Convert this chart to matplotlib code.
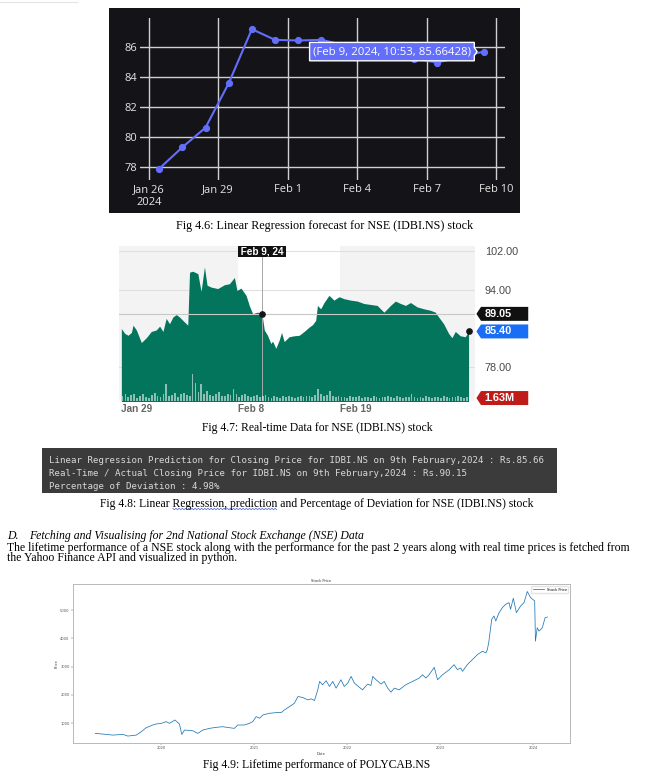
import numpy as np
import pandas as pd
import matplotlib
matplotlib.use('Agg')
import matplotlib.pyplot as plt
import matplotlib.dates as mdates
from matplotlib.patches import Rectangle, Polygon
from matplotlib.lines import Line2D
from matplotlib import transforms

W, H = 651, 779

# --- Fig 4.6: linear regression forecast (one value per day at 10:53) ---
lr_start = '2024-01-26 10:53'
lr_price = [77.91, 79.33, 80.63, 83.57, 87.15, 86.44, 86.40, 86.44,
            86.10, 85.80, 85.50, 85.20, 84.94, 85.30, 85.66428]
lr_ticks = ['2024-01-26', '2024-01-29', '2024-02-01', '2024-02-04', '2024-02-07', '2024-02-10']
lr_ticklabels = ['Jan 26\n2024', 'Jan 29', 'Feb 1', 'Feb 4', 'Feb 7', 'Feb 10']
lr_yticks = [78, 80, 82, 84, 86]
lr_hover = '(Feb 9, 2024, 10:53, 85.66428)'

# --- Fig 4.7: real-time chart, x = trading days since Jan 29 ---
rt_day = [0.02, 0.25, 0.48, 0.71, 0.82, 1.05, 1.39, 1.73, 2.07, 2.41, 2.64, 2.87,
          3.09, 3.32, 3.55, 3.78, 4.00, 4.23, 4.57, 4.69, 4.91, 5.26, 5.48, 5.71,
          5.89, 6.17, 6.62, 7.08, 7.42, 7.76, 7.94, 8.21, 8.56, 8.78, 9.01, 9.35,
          9.65, 9.81, 10.03, 10.26, 10.38, 10.60, 10.83, 10.99, 11.17, 11.51, 11.85,
          12.20, 12.54, 12.88, 13.11, 13.33, 13.45, 13.67, 13.90, 14.24, 14.58, 14.93,
          15.27, 15.72, 16.18, 16.63, 17.09, 17.54, 18.00, 18.23, 18.45, 18.79, 19.14,
          19.48, 19.82, 20.27, 20.73, 21.18, 21.52, 21.75, 22.09, 22.43, 22.66, 22.89,
          23.23, 23.57, 23.80]
rt_price = [86.0, 85.0, 84.6, 85.2, 86.7, 85.7, 83.1, 84.1, 85.4, 85.7, 86.5, 85.4,
            88.1, 87.0, 88.4, 88.9, 88.4, 87.7, 86.7, 97.7, 97.9, 97.4, 93.7, 98.8,
            95.0, 94.6, 94.3, 95.1, 95.3, 96.6, 93.9, 94.4, 92.9, 90.8, 89.1, 89.4,
            89.05, 85.7, 84.6, 82.9, 83.4, 81.9, 83.6, 85.2, 83.3, 84.3, 84.5,
            84.6, 85.4, 86.3, 86.8, 87.7, 90.8, 90.1, 91.4, 92.9, 91.9, 92.6,
            92.2, 91.9, 91.7, 91.2, 91.0, 90.8, 89.4, 90.1, 90.8, 91.7, 91.2,
            90.8, 91.4, 90.5, 90.1, 89.8, 89.4, 88.4, 87.0, 85.0, 84.1, 85.4,
            84.5, 84.3, 85.4]
# volume in thousand shares, 5 bars per trading day
rt_volume = [150, 200, 120, 180, 210, 90, 160, 220, 130, 100,
             170, 240, 140, 110, 200, 500, 160, 190, 250, 120,
             210, 230, 180, 150, 800, 550, 260, 500, 200, 300,
             180, 150, 220, 280, 160, 140, 200, 170, 350, 210,
             130, 180, 220, 150, 120, 160, 190, 110, 140, 180,
             120, 100, 150, 130, 90, 140, 110, 160, 120, 100,
             130, 150, 110, 160, 140, 120, 180, 350, 200, 150,
             170, 300, 140, 120, 160, 110, 130, 100, 150, 120,
             110, 140, 90, 130, 120, 100, 150, 110, 90, 130,
             120, 140, 110, 100, 150, 130, 90, 120, 110, 220,
             130, 100, 120, 90, 140, 110, 100, 130, 120, 90,
             140, 110, 100, 130, 120, 150, 110, 100, 130, 120]
rt_ticks = [0, 8, 15]
rt_ticklabels = ['Jan 29', 'Feb 8', 'Feb 19']
rt_yticks = [78, 94, 102]
rt_cursor_day = 9.65
rt_cursor_label = 'Feb 9, 24'
rt_cursor_price = 89.05
rt_last_volume = '1.63M'

# --- Fig 4.8: notebook output ---
code_lines = [
    'Linear Regression Prediction for Closing Price for IDBI.NS on 9th February,2024 : Rs.85.66',
    'Real-Time / Actual Closing Price for IDBI.NS on 9th February,2024 : Rs.90.15',
    'Percentage of Deviation : 4.98%',
]

# --- Fig 4.9: POLYCAB.NS lifetime closing price ---
pc_date = ['2019-04-16', '2019-05-16', '2019-06-24', '2019-08-03', '2019-08-22', '2019-09-24',
           '2019-10-14', '2019-11-02', '2019-11-28', '2019-12-11', '2020-01-01', '2020-01-20',
           '2020-02-02', '2020-02-23', '2020-03-12', '2020-03-21', '2020-04-01', '2020-05-03',
           '2020-05-23', '2020-06-12', '2020-07-08', '2020-08-03', '2020-08-29', '2020-09-24',
           '2020-10-14', '2020-10-27', '2020-11-22', '2020-12-12', '2020-12-25', '2021-01-08',
           '2021-01-21', '2021-02-03', '2021-03-01', '2021-03-28', '2021-04-16', '2021-04-29',
           '2021-05-19', '2021-06-07', '2021-06-21', '2021-07-10', '2021-07-30', '2021-08-12',
           '2021-08-25', '2021-09-07', '2021-09-14', '2021-09-26', '2021-10-10', '2021-10-23',
           '2021-11-05', '2021-11-18', '2021-12-07', '2021-12-20', '2022-01-03', '2022-01-16',
           '2022-01-29', '2022-02-18', '2022-03-02', '2022-03-22', '2022-04-04', '2022-04-11',
           '2022-04-24', '2022-05-14', '2022-05-26', '2022-06-09', '2022-06-22', '2022-07-05',
           '2022-07-24', '2022-08-19', '2022-09-15', '2022-10-11', '2022-10-24', '2022-11-06',
           '2022-11-19', '2022-12-09', '2022-12-22', '2023-01-11', '2023-02-06', '2023-02-25',
           '2023-03-10', '2023-03-23', '2023-03-30', '2023-04-18', '2023-05-08', '2023-05-28',
           '2023-06-17', '2023-06-30', '2023-07-06', '2023-07-12', '2023-07-23', '2023-08-01',
           '2023-08-08', '2023-08-21', '2023-09-03', '2023-09-16', '2023-09-29', '2023-10-05',
           '2023-10-16', '2023-10-28', '2023-11-14', '2023-11-27', '2023-12-10', '2023-12-23',
           '2024-01-08', '2024-01-11', '2024-01-18', '2024-01-25', '2024-02-07', '2024-02-18',
           '2024-02-27']
pc_price = [631, 607, 571, 595, 536, 571, 690, 833, 929, 964, 988, 1048,
            988, 1107, 964, 595, 750, 726, 631, 750, 810, 845, 869, 833,
            810, 929, 929, 988, 1048, 1226, 1167, 1286, 1345, 1369, 1369, 1464,
            1583, 1702, 1940, 1905, 1821, 1857, 1798, 2179, 2476, 2357, 2500, 2298,
            2476, 2238, 2536, 2298, 2417, 2655, 2417, 2262, 2179, 2381, 2333, 2655,
            2536, 2381, 2476, 2238, 2095, 2238, 2179, 2357, 2476, 2595, 2714, 2595,
            2714, 2976, 2536, 2714, 2893, 3071, 2893, 2952, 2833, 3071, 3250, 3429,
            3548, 3488, 3607, 3905, 4679, 4798, 4619, 4917, 5095, 5214, 5274, 5036,
            5429, 4917, 5155, 5274, 5667, 5452, 5333, 3905, 4381, 4262, 4381, 4738,
            4762]


def rect(x0, y0, x1, y1):
    """pixel box (top-left origin) -> figure fraction rect"""
    return [x0 / W, 1 - y1 / H, (x1 - x0) / W, (y1 - y0) / H]


def ftext(x, y, s, **kw):
    return fig.text(x / W, 1 - y / H, s, **kw)


def fbox(x0, y0, x1, y1, color):
    fig.add_artist(Rectangle((x0 / W, 1 - y1 / H), (x1 - x0) / W, (y1 - y0) / H,
                             transform=fig.transFigure, color=color, lw=0, zorder=-5))


serif = 'Liberation Serif'
cap_big = 8.7
cap_size = 8.4
body_size = 8.5

fig = plt.figure(figsize=(W / 100, H / 100), dpi=100)
fig.patch.set_facecolor('white')

# faint rule at the very top
fig.add_artist(Line2D([0, 77 / W], [1 - 1.7 / H] * 2, color='#e4e4e4', lw=0.8,
                      transform=fig.transFigure))

# ---------------- Fig 4.6 ----------------
dark = '#131318'
fbox(109, 8, 520, 213, dark)
ax1 = fig.add_axes(rect(139.7, 18.3, 504.7, 180))
ax1.set_facecolor(dark)
for s in ax1.spines.values():
    s.set_visible(False)
lr_dates = pd.date_range(lr_start, periods=len(lr_price), freq='D')
ax1.plot(lr_dates, lr_price, '-o', color='#636efa', lw=1.5, ms=4.2, zorder=3)
ax1.set_xlim(pd.Timestamp('2024-01-25 14:41'), pd.Timestamp('2024-02-10 08:45'))
ax1.set_ylim(77.16, 87.87)
ax1.set_xticks(pd.to_datetime(lr_ticks))
ax1.set_xticklabels(lr_ticklabels)
ax1.set_yticks(lr_yticks)
ax1.grid(True, color='#d0d0d0', lw=1.0)
ax1.set_axisbelow(True)
ax1.tick_params(length=0, colors='#e6e6e6', labelsize=8)
ax1.tick_params(axis='x', pad=3)
ax1.tick_params(axis='y', pad=1.5)
for lab in ax1.get_xticklabels() + ax1.get_yticklabels():
    lab.set_family('Open Sans')
for lab in ax1.get_xticklabels():
    lab.set_linespacing(1.25)

# hover label
px, py = ax1.transData.transform((mdates.date2num(lr_dates[-1]), lr_price[-1]))
bx0, bx1 = px - 174, px - 9.3
verts = [(bx0, py + 9.2), (bx1, py + 9.2), (bx1, py + 4), (px - 6.5, py),
         (bx1, py - 4), (bx1, py - 9.2), (bx0, py - 9.2)]
fig.add_artist(Polygon(verts, closed=True, transform=transforms.IdentityTransform(),
                       facecolor='#636efa', edgecolor='white', lw=1, zorder=4))
fig.text((bx0 + bx1) / 2 / W, py / H, lr_hover, ha='center', va='center',
         color='white', family='Open Sans', size=8.2, zorder=5)

ftext(324.5, 225.7, 'Fig 4.6: Linear Regression forecast for NSE (IDBI.NS) stock',
      ha='center', va='center', family=serif, size=cap_big)

# ---------------- Fig 4.7 ----------------
ax2 = fig.add_axes(rect(119, 245.5, 474.7, 401))
ax2v = ax2.twinx()
ax2.set_facecolor('#f3f3f3')
for s in list(ax2.spines.values()) + list(ax2v.spines.values()):
    s.set_visible(False)
ax2.axvspan(rt_ticks[1], rt_ticks[2], color='white', lw=0, zorder=0.3)
green = '#02755c'
ax2.fill_between(rt_day, rt_price, 0, color=green, lw=0, zorder=2)
ax2.axvline(rt_cursor_day, color='#a8a8a8', lw=0.7, zorder=3)
ax2.axhline(rt_cursor_price, color='#c8c8c8', lw=0.8, zorder=3)
ax2.plot([rt_cursor_day], [rt_cursor_price], 'o', color='#151515', ms=3.8, zorder=4)
ax2.plot([rt_day[-1]], [rt_price[-1]], 'o', color='#151515', ms=3.8, zorder=4)
ax2.set_xlim(-0.14, 24.22)
ax2.set_ylim(70.96, 103.24)
ax2.yaxis.tick_right()
ax2.set_yticks(rt_yticks, labels=[f'{v:.2f}' for v in rt_yticks])
ax2.yaxis.grid(True, color='#e0e0e0', lw=0.8)
ax2.set_axisbelow(True)
ax2.tick_params(axis='y', length=0, pad=7.4, labelsize=7.8, labelcolor='#4a4a4a')
ax2.set_xticks(rt_ticks, labels=rt_ticklabels)
ax2.tick_params(axis='x', length=0, pad=2.5, labelsize=7.2, labelcolor='#666666')
for lab in ax2.get_xticklabels():
    lab.set_ha('left')
    lab.set_weight('bold')
    lab.set_family('Liberation Sans')
for lab in ax2.get_yticklabels():
    lab.set_family('Liberation Sans')

vol_pos = np.arange(len(rt_volume)) / 5 + 0.1
ax2v.bar(vol_pos, rt_volume, width=0.12, color='white', alpha=0.55, lw=0)
ax2v.set_ylim(0, 4674)
ax2v.set_yticks([])
ax2v.tick_params(length=0)

blend_y = transforms.blended_transform_factory(ax2.transAxes, ax2.transData)
blend_x = transforms.blended_transform_factory(ax2.transData, ax2.transAxes)


def tag(y, color, text, trans, hh):
    v = [(1.0048, y), (1.0177, y + hh), (1.1505, y + hh), (1.1505, y - hh), (1.0177, y - hh)]
    ax2.add_artist(Polygon(v, closed=True, transform=trans, facecolor=color, lw=0,
                           clip_on=False, zorder=6))
    ax2.text(1.028, y, text, transform=trans, color='white', weight='bold', size=7.8,
             family='Liberation Sans', va='center', ha='left', zorder=7, clip_on=False)


tag(rt_cursor_price, '#111111', f'{rt_cursor_price:.2f}', blend_y, 1.45)
tag(rt_price[-1], '#1a6ef5', f'{rt_price[-1]:.2f}', blend_y, 1.45)
tag(0.019, '#c01b1b', rt_last_volume, ax2.transAxes, 0.045)

ax2.text(rt_cursor_day, 0.962, ' ' + rt_cursor_label + ' ', transform=blend_x, ha='center',
         va='center', color='white', weight='bold', size=7.2, family='Liberation Sans',
         bbox=dict(boxstyle='square,pad=0.02', fc='#111111', ec='none'), zorder=7)

ftext(317.5, 428.5, 'Fig 4.7: Real-time Data for NSE (IDBI.NS) stock',
      ha='center', va='center', family=serif, size=cap_size)

# ---------------- Fig 4.8 ----------------
fbox(42, 447.7, 556.7, 493.3, '#3b3b3b')
for yy, line in zip([460, 473.3, 486.7], code_lines):
    ftext(49.3, yy, line, ha='left', va='center', family='DejaVu Sans Mono',
          size=6.62, color='#d8d8d8')
cap8_pre = 'Fig 4.8: Linear '
cap8_mark = 'Regression, prediction'
cap8 = cap8_pre + cap8_mark + ' and Percentage of Deviation for NSE (IDBI.NS) stock'
t8 = ftext(317, 503.5, cap8, ha='center', va='center', family=serif, size=cap_size)

# spell-check squiggle under "Regression, prediction", placed from measured text widths
renderer = fig.canvas.get_renderer()


def text_width(s):
    t = fig.text(0, 0, s, family=serif, size=cap_size)
    w = t.get_window_extent(renderer).width
    t.remove()
    return w


full_bb = t8.get_window_extent(renderer)
sq_x0 = full_bb.x0 + text_width(cap8_pre)
sq_x1 = full_bb.x0 + text_width(cap8_pre + cap8_mark)
sq_x = np.arange(sq_x0, sq_x1, 1.6)
sq_y = 509 + np.where(np.arange(len(sq_x)) % 2 == 0, -0.7, 0.7)
fig.add_artist(Line2D(sq_x / W, 1 - sq_y / H, color='#3a5fd0', lw=0.5,
                      transform=fig.transFigure))

# ---------------- section text ----------------
ftext(7.3, 536.2, 'D.', style='italic', family=serif, size=body_size, va='center')
ftext(29.3, 536.2, 'Fetching and Visualising for 2nd National Stock Exchange (NSE) Data',
      style='italic', family=serif, size=body_size, va='center')
ftext(7, 547.9, 'The lifetime performance of a NSE stock along with the performance for the past 2 '
      'years along with real time prices is fetched from', family=serif, size=body_size,
      va='center')
ftext(7, 558.5, 'the Yahoo Finance API and visualized in python.', family=serif,
      size=body_size, va='center')

# ---------------- Fig 4.9 ----------------
tiny = 2.6
ax4 = fig.add_axes(rect(72.7, 584.3, 570, 743.3))
ax4.plot(pd.to_datetime(pc_date), pc_price, color='#1f77b4', lw=0.55, label='Stock Price')
ax4.xaxis.set_major_locator(mdates.YearLocator())
ax4.xaxis.set_major_formatter(mdates.DateFormatter('%Y'))
ax4.set_title('Stock Price', fontsize=tiny, pad=1.5, color='#333333')
ax4.set_xlabel('Date', fontsize=tiny, labelpad=1, color='#333333')
ax4.set_ylabel('Price', fontsize=tiny, labelpad=1, color='#333333')
ax4.tick_params(labelsize=tiny, length=1.2, width=0.3, pad=1, colors='#555555')
for s in ax4.spines.values():
    s.set_color('#b8b8b8')
    s.set_linewidth(0.7)
ax4.legend(loc='upper right', fontsize=tiny, edgecolor='#dddddd', borderpad=0.4,
           handlelength=3)

ftext(317, 765, 'Fig 4.9: Lifetime performance of POLYCAB.NS',
      ha='center', va='center', family=serif, size=cap_size)

fig.savefig('out.png', dpi=100)
